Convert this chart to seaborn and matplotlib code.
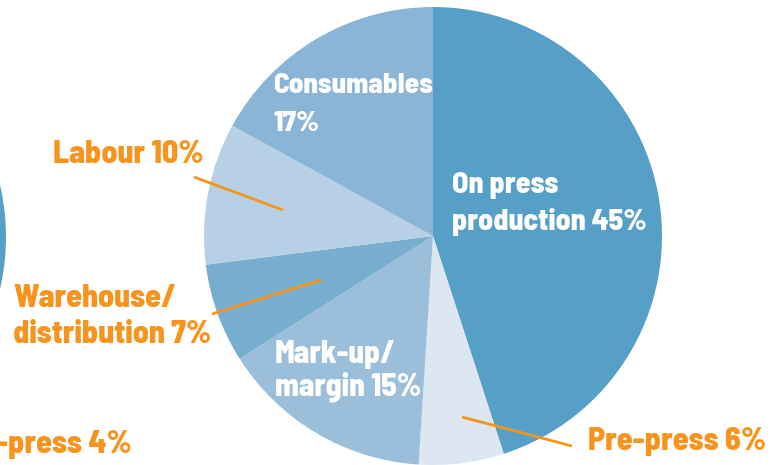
import matplotlib
matplotlib.use("Agg")
import matplotlib.pyplot as plt
import seaborn as sns

sns.set_theme(style="white")

# ---- data ----
categories = ["On press production", "Pre-press", "Mark-up/margin",
              "Warehouse/distribution", "Labour", "Consumables"]
shares = [45, 6, 15, 7, 10, 17]
slice_colors = ["#569FC7", "#DCE7F2", "#9BBEDA", "#77ADCF", "#B8D0E6", "#8AB5D6"]
inside_labels = ["On press\nproduction 45%", "Mark-up/\nmargin 15%", "Consumables\n17%"]
outside_labels = ["Pre-press 6%", "Warehouse/\ndistribution 7%", "Labour 10%"]
neighbour_label = "-press 4%"
neighbour_share = [100]

ORANGE = "#F7941E"
W, H = 775, 465
fig = plt.figure(figsize=(W / 100, H / 100), dpi=100)
ax = fig.add_axes([0, 0, 1, 1])

def py(y):
    return H - y

cx, cy, r = 433, py(236), 229
ax.pie(shares, colors=slice_colors, startangle=90, counterclock=False,
       center=(cx, cy), radius=r, wedgeprops=dict(linewidth=0),
       frame=False)
# neighbouring chart partially visible at the left edge
ax.pie(neighbour_share, colors=["#569FC7"], center=(6 - r, py(237)), radius=r,
       wedgeprops=dict(linewidth=0), frame=False)

ax.set_xlim(0, W)
ax.set_ylim(0, H)
ax.set_aspect("equal")
ax.axis("off")

fam = ["Barlow Semi Condensed", "Barlow Condensed", "DejaVu Sans"]

def lines(x, ys, text, color, size):
    for y, t in zip(ys, text.split("\n")):
        ax.text(x, py(y), t, color=color, fontsize=size, fontweight="heavy",
                family=fam, ha="left", va="baseline")

# inside labels (white)
lines(452, [193, 230], inside_labels[0], "white", 21.5)
lines(275, [363, 396], inside_labels[1], "white", 22.5)
lines(273, [93, 131], inside_labels[2], "white", 21)

# outside labels (orange)
lines(588, [450], outside_labels[0], ORANGE, 23)
lines(13, [307, 343], outside_labels[1], ORANGE, 23)
lines(53, [163], outside_labels[2], ORANGE, 23)
lines(-4, [453], neighbour_label, ORANGE, 23)

# leader lines
for (x0, y0), (x1, y1) in [((194, 177), (283, 210)),
                           ((212, 314), (321, 280)),
                           ((462, 417), (572, 446))]:
    ax.plot([x0, x1], [py(y0), py(y1)], color=ORANGE, lw=2, solid_capstyle="butt")

fig.savefig("out.png", dpi=100)
